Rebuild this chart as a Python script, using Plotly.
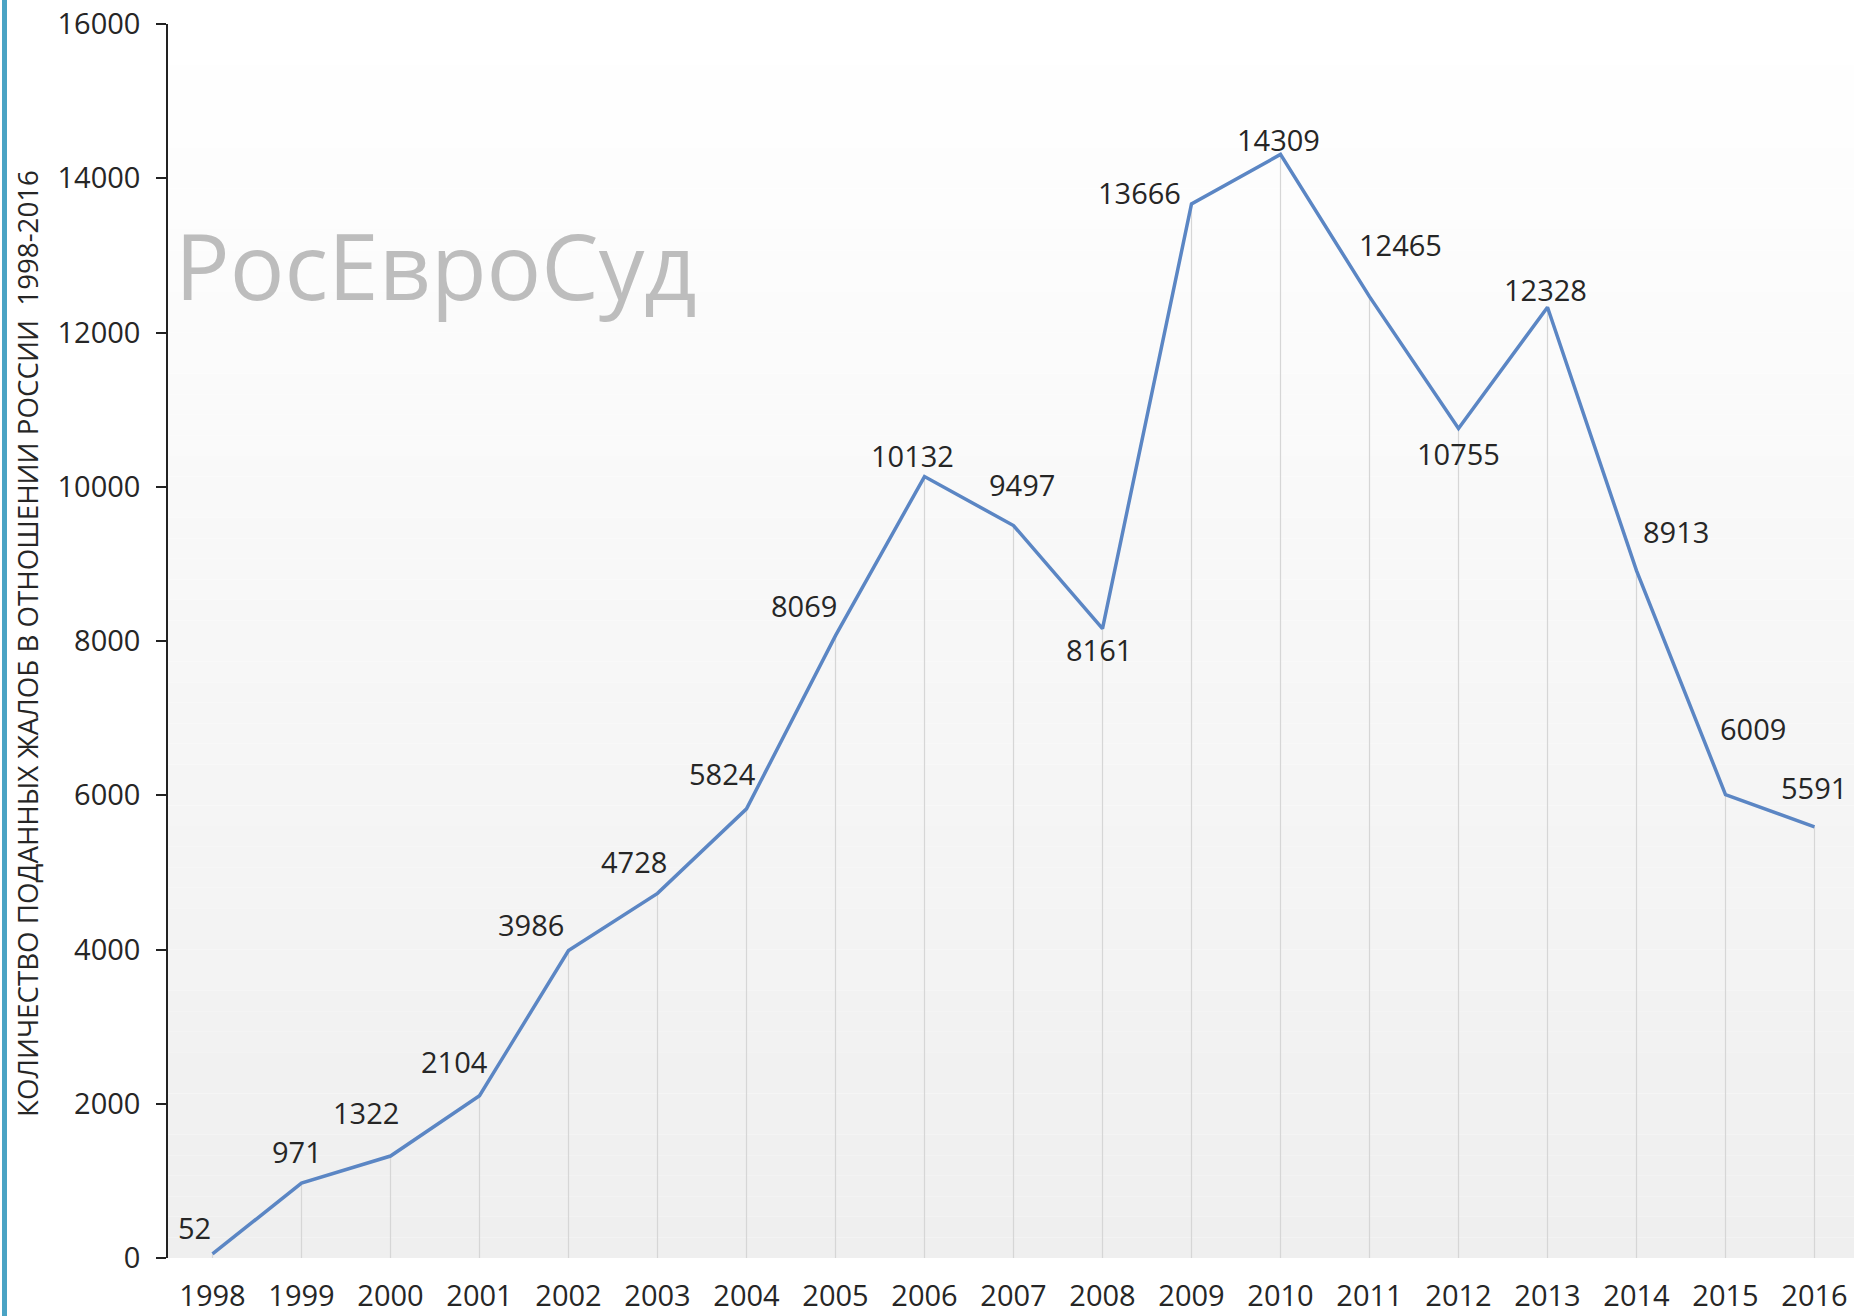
import plotly.graph_objects as go

years = ["1998", "1999", "2000", "2001", "2002", "2003", "2004", "2005", "2006", "2007",
         "2008", "2009", "2010", "2011", "2012", "2013", "2014", "2015", "2016"]
complaints = [52, 971, 1322, 2104, 3986, 4728, 5824, 8069, 10132, 9497,
              8161, 13666, 14309, 12465, 10755, 12328, 8913, 6009, 5591]
y_ticks = [0, 2000, 4000, 6000, 8000, 10000, 12000, 14000, 16000]
y_title = "КОЛИЧЕСТВО ПОДАННЫХ ЖАЛОБ В ОТНОШЕНИИ РОССИИ  1998-2016"
watermark = "РосЕвроСуд"

# label offsets in pixels (style, not data)
label_dx = [-18, -5, -25, -25, -38, -24, -24, -32, -12, 8, -4, -52, -2, 31, 0, -2, 39, 27, -1]
label_dy = [-26, -32, -44, -34, -26, -32, -35, -30, -21, -41, 21, -12, -15, -52, 25, -18, -39, -66, -39]

W, H = 1854, 1316
L, R, T, B = 168, 0, 24, 58
pw, ph = W - L - R, H - T - B

FONT = "Open Sans"
TXT = "#262626"
FS = 29

fig = go.Figure()

# drop lines
dx, dy = [], []
for i, v in enumerate(complaints):
    dx += [i, i, None]
    dy += [0, v, None]
fig.add_trace(go.Scatter(x=dx, y=dy, mode="lines",
                         line=dict(color="#d6d6d6", width=1.2),
                         hoverinfo="skip", showlegend=False))

fig.add_trace(go.Scatter(x=list(range(len(years))), y=complaints, mode="lines",
                         line=dict(color="#5b86c4", width=3.5),
                         showlegend=False))

annotations = []
for i, (v, ox, oy) in enumerate(zip(complaints, label_dx, label_dy)):
    annotations.append(dict(x=i, y=v, xref="x", yref="y", text=str(v),
                            showarrow=False, xshift=ox, yshift=-oy,
                            font=dict(family=FONT, size=FS, color=TXT)))

# axis title
annotations.append(dict(x=(27 - L) / pw, y=(H - B - 644) / ph, xref="paper", yref="paper",
                        text=y_title, textangle=-90, showarrow=False,
                        xanchor="center", yanchor="middle",
                        font=dict(family=FONT, size=27.7, color=TXT)))
# watermark
annotations.append(dict(x=(173 - L) / pw, y=(H - B - 265) / ph, xref="paper", yref="paper",
                        text=watermark, showarrow=False,
                        xanchor="left", yanchor="middle",
                        font=dict(family=FONT, size=91, color="#bdbdbd")))

shapes = []
# gradient background in plot area
n = 60
for i in range(n):
    f = i / (n - 1)
    c = int(round(255 - (255 - 239) * f))
    shapes.append(dict(type="rect", xref="paper", yref="paper",
                       x0=0, x1=1, y0=1 - (i + 1) / n, y1=1 - i / n,
                       fillcolor=f"rgb({c},{c},{c})", line=dict(width=0), layer="below"))
# teal left border
shapes.append(dict(type="rect", xref="paper", yref="paper",
                   x0=(2 - L) / pw, x1=(7 - L) / pw, y0=-0.1, y1=1.1,
                   fillcolor="#4aa3c4", line=dict(width=0)))

fig.update_layout(
    width=W, height=H,
    margin=dict(l=L, r=R, t=T, b=B, pad=0, autoexpand=False),
    paper_bgcolor="white", plot_bgcolor="rgba(0,0,0,0)",
    annotations=annotations, shapes=shapes,
    xaxis=dict(range=[-0.5, -0.5 + pw / 89.0], automargin=False,
               tickvals=list(range(len(years))), ticktext=years,
               showline=False, showgrid=False, zeroline=False, ticks="",
               tickfont=dict(family=FONT, size=FS, color=TXT),
               ticklabelstandoff=18),
    yaxis=dict(range=[0, 16000], tickvals=y_ticks, tickformat="d", automargin=False,
               showgrid=False, zeroline=False,
               showline=True, linecolor="#222", linewidth=1.6,
               ticks="outside", ticklen=10, tickcolor="#222", tickwidth=1.6,
               tickfont=dict(family=FONT, size=FS, color=TXT),
               ticklabelstandoff=10),
)

fig.write_html("out.html", config={"displayModeBar": False},
               post_script="document.body.style.margin='0';document.body.style.overflow='hidden';")
